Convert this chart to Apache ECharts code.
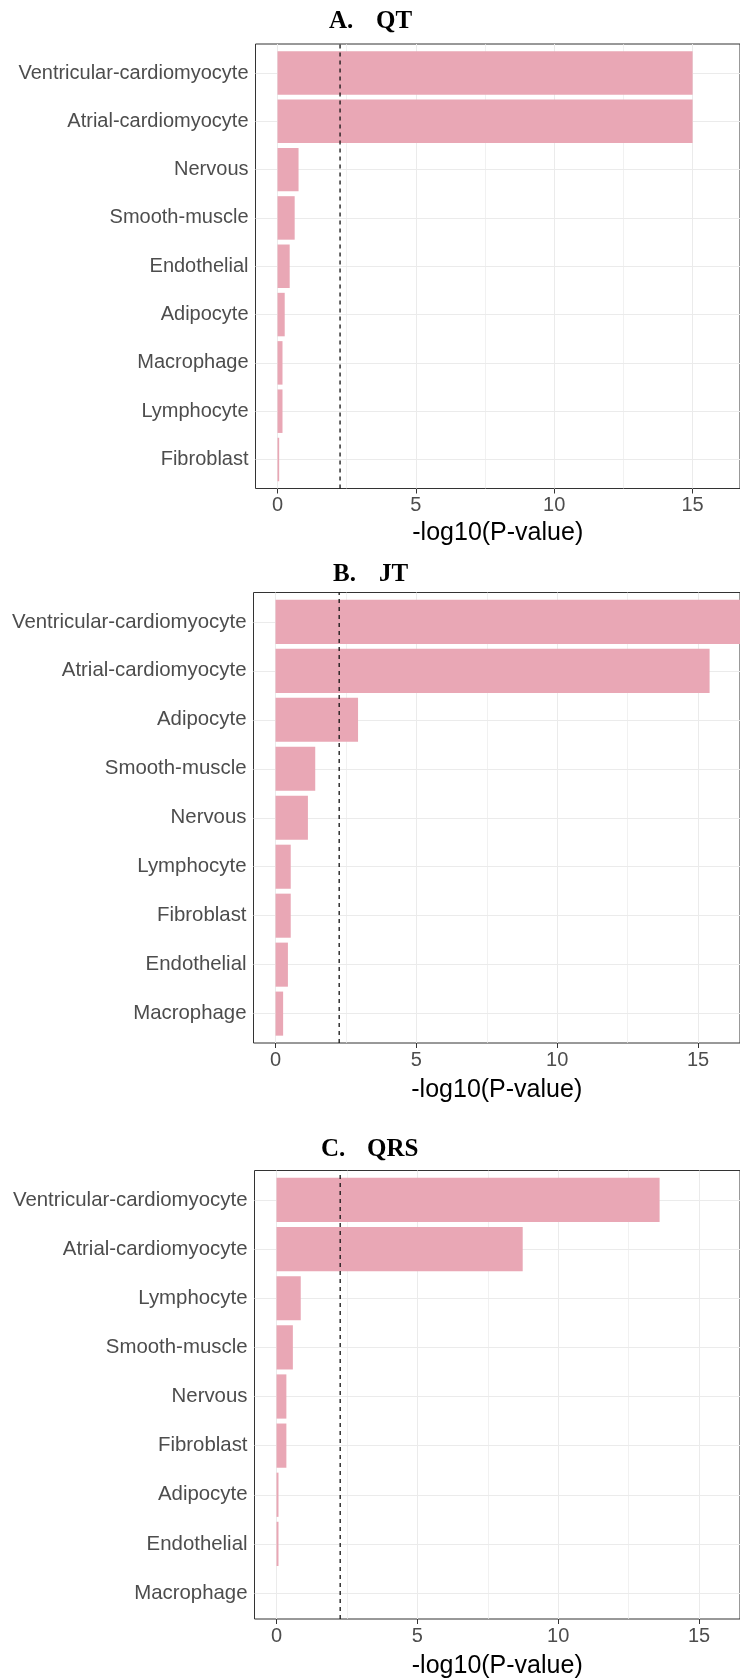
<!DOCTYPE html>
<html>
<head>
<meta charset="utf-8">
<script src="https://cdn.jsdelivr.net/npm/echarts@6/dist/echarts.min.js"></script>
<style>
html,body{margin:0;padding:0;background:#ffffff;}
#chart{width:740px;height:1680px;}
</style>
</head>
<body>
<div id="chart"></div>
<script>
// ---------- data ----------
const qtCategories = ['Ventricular-cardiomyocyte','Atrial-cardiomyocyte','Nervous','Smooth-muscle','Endothelial','Adipocyte','Macrophage','Lymphocyte','Fibroblast'];
const qtValues = [15.0, 15.0, 0.76, 0.62, 0.44, 0.26, 0.18, 0.18, 0.06];

const jtCategories = ['Ventricular-cardiomyocyte','Atrial-cardiomyocyte','Adipocyte','Smooth-muscle','Nervous','Lymphocyte','Fibroblast','Endothelial','Macrophage'];
const jtValues = [17.0, 15.41, 2.93, 1.41, 1.15, 0.54, 0.54, 0.44, 0.27];

const qrsCategories = ['Ventricular-cardiomyocyte','Atrial-cardiomyocyte','Lymphocyte','Smooth-muscle','Nervous','Fibroblast','Adipocyte','Endothelial','Macrophage'];
const qrsValues = [13.6, 8.74, 0.86, 0.58, 0.35, 0.35, 0.07, 0.07, 0.0];

const panelLetters = ['A.', 'B.', 'C.'];
const panelTitles = ['QT', 'JT', 'QRS'];
const xTickLabels = [0, 5, 10, 15];
const xMinorTicks = [2.5, 7.5, 12.5];
const threshold = 2.26;
const xAxisTitle = '-log10(P-value)';

// ---------- layout (pixels) ----------
const layouts = [
  {left: 255.5, top: 44, bottom: 488.5, zero: 277.7, unit: 27.9, letterX: 329, nameX: 376, titleY: 22, labelSize: 20, nameGap: 32},
  {left: 253.5, top: 592.5, bottom: 1043, zero: 275.7, unit: 28.4, letterX: 333, nameX: 379, titleY: 575, labelSize: 20.4, nameGap: 35},
  {left: 254.5, top: 1170.5, bottom: 1622.5, zero: 276.7, unit: 28.4, letterX: 321, nameX: 367, titleY: 1150, labelSize: 20.4, nameGap: 35}
];
const frameRight = 744;
const barColor = '#E9A7B5';
const gridColor = '#EBEBEB';
const sans = 'Liberation Sans';
const serif = 'Liberation Serif';

const panels = [
  {cats: qtCategories, vals: qtValues},
  {cats: jtCategories, vals: jtValues},
  {cats: qrsCategories, vals: qrsValues}
];

const grids = [], xAxes = [], yAxes = [], series = [], graphics = [];

panels.forEach((p, i) => {
  const L = layouts[i];
  const width = frameRight - L.left;
  const xmin = (L.left - L.zero) / L.unit;
  const xmax = xmin + width / L.unit;
  const cat = (L.bottom - L.top) / (p.cats.length + 0.2);
  const frameIdx = grids.length;
  grids.push({left: L.left, top: L.top, width: width, height: L.bottom - L.top,
    show: true, borderColor: '#333333', borderWidth: 1, backgroundColor: 'rgba(0,0,0,0)'});
  const mainIdx = grids.length;
  grids.push({left: L.left, top: L.top + 0.1 * cat, width: width, height: p.cats.length * cat, show: false});

  xAxes.push({gridIndex: frameIdx, type: 'value', min: xmin, max: xmax,
    axisLine: {show: false},
    axisTick: {show: true, length: 5, customValues: xTickLabels, lineStyle: {color: '#333333', width: 1}},
    axisLabel: {customValues: xTickLabels, fontSize: 20, color: '#4D4D4D', margin: 7, fontFamily: sans},
    splitLine: {show: false},
    name: xAxisTitle, nameLocation: 'middle', nameGap: L.nameGap,
    nameTextStyle: {fontSize: 25, color: '#000000', fontFamily: sans}
  });
  yAxes.push({gridIndex: frameIdx, type: 'value', min: 0, max: 1, show: false});

  xAxes.push({gridIndex: mainIdx, type: 'value', min: xmin, max: xmax, show: false});
  yAxes.push({gridIndex: mainIdx, type: 'category', inverse: true, data: p.cats,
    axisLine: {show: false},
    axisTick: {show: true, alignWithLabel: true, length: 5, lineStyle: {color: '#333333', width: 1}},
    axisLabel: {fontSize: L.labelSize, color: '#4D4D4D', margin: 7, fontFamily: sans},
    splitLine: {show: false}
  });

  const fx = 2 * i, fy = 2 * i, mx = 2 * i + 1, my = 2 * i + 1;

  // vertical grid lines (frame grid)
  series.push({type: 'line', xAxisIndex: fx, yAxisIndex: fy, data: [], silent: true, z: 1,
    markLine: {z: 1, silent: true, symbol: ['none', 'none'], label: {show: false}, animation: false,
      lineStyle: {color: gridColor, type: 'solid', width: 1},
      data: xTickLabels.map(v => ({xAxis: v})).concat(xMinorTicks.map(v => ({xAxis: v, lineStyle: {color: gridColor, width: 0.7, type: 'solid'}})))
    }
  });
  // horizontal grid lines at categories (main grid)
  series.push({type: 'line', xAxisIndex: mx, yAxisIndex: my, data: [], silent: true, z: 1,
    markLine: {z: 1, silent: true, symbol: ['none', 'none'], label: {show: false}, animation: false,
      lineStyle: {color: gridColor, type: 'solid', width: 1},
      data: p.cats.map((c, k) => ({yAxis: k}))
    }
  });
  // bars
  series.push({type: 'bar', xAxisIndex: mx, yAxisIndex: my, data: p.vals, barCategoryGap: '10%',
    itemStyle: {color: barColor}, silent: true, z: 3});
  // threshold dashed line
  series.push({type: 'line', xAxisIndex: fx, yAxisIndex: fy, data: [[threshold, 0], [threshold, 1]],
    symbol: 'none', silent: true, z: 6,
    lineStyle: {type: [4, 4], width: 1.3, color: '#111111'}});

  graphics.push({type: 'text', x: L.letterX, y: L.titleY,
    style: {text: panelLetters[i], fontSize: 25, fontWeight: 'bold', fontFamily: serif, fill: '#000000', verticalAlign: 'middle'}});
  graphics.push({type: 'text', x: L.nameX, y: L.titleY,
    style: {text: panelTitles[i], fontSize: 25, fontWeight: 'bold', fontFamily: serif, fill: '#000000', verticalAlign: 'middle'}});
});

const chart = echarts.init(document.getElementById('chart'), null, {renderer: 'canvas'});
chart.setOption({
  animation: false,
  backgroundColor: '#ffffff',
  grid: grids,
  xAxis: xAxes,
  yAxis: yAxes,
  series: series,
  graphic: graphics
});
</script>
</body>
</html>
